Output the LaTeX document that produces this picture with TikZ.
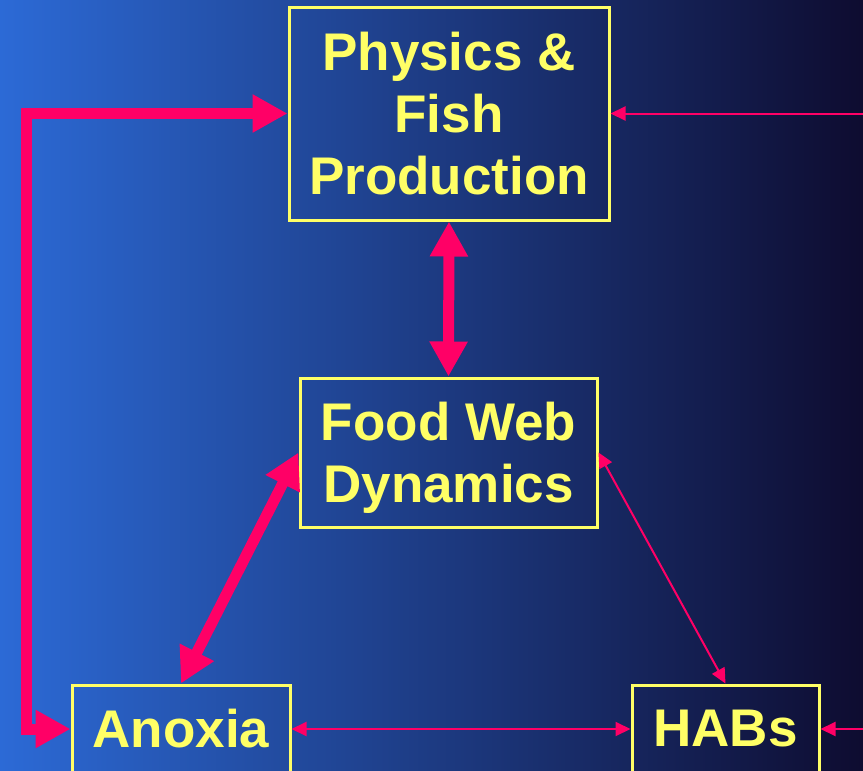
\documentclass[tikz,border=0pt]{standalone}
\usepackage{fontspec}
\setmainfont{Liberation Sans}
\usetikzlibrary{arrows.meta, positioning}
\definecolor{linkred}{RGB}{255,0,102}
\definecolor{boxyellow}{RGB}{255,255,102}
\definecolor{bgleft}{RGB}{44,106,214}
\definecolor{bgmid}{RGB}{32,64,148}
\definecolor{bgright}{RGB}{14,12,48}

\begin{document}
\begin{tikzpicture}[x=1pt, y=-1pt,
    box/.style={draw=boxyellow, line width=3pt, text=boxyellow, align=center, inner sep=0pt,
        font=\fontsize{53}{62}\selectfont\bfseries},
    thickarrow/.style={linkred, line width=11pt,
        {Triangle[length=35pt,width=36pt]}-{Triangle[length=35pt,width=36pt]}},
    thinboth/.style={linkred, line width=2pt,
        {Triangle[length=15pt,width=14pt]}-{Triangle[length=15pt,width=14pt]}},
    thinend/.style={linkred, line width=2pt, -{Triangle[length=15pt,width=14pt]}}]
    \useasboundingbox (0,0) rectangle (863,771);
    
    % background
    \shade[left color=bgleft, middle color=bgmid, right color=bgright] (0,0) rectangle (863,771);
    
    % boxes
    \node[box, minimum width=320pt, minimum height=213pt] (phys) at (449,113.5) {Physics \&\\Fish\\Production};
    \node[box, minimum width=297pt, minimum height=149pt, text depth=0pt] (food) at (448.5,452.5) {Food Web\\Dynamics};
    \node[box, minimum width=218pt, minimum height=88pt] (anoxia) at (181,729) {Anoxia};
    \node[box, minimum width=187pt, minimum height=88pt] (habs) at (725.5,729) {HABs};
    
    \coordinate (rail) at (26,400);
    \coordinate (edgetop) at (863,113.5);
    \coordinate (edgebot) at (863,729);
    
    % links
    \draw[thickarrow] (phys.west) -| (rail) |- (anoxia.west);
    \draw[thickarrow] (phys.south) -- (food.north);
    \draw[thickarrow] (food.west) -- (anoxia.north);
    \draw[thinboth] (food.east) -- (habs.north);
    \draw[thinboth] (anoxia.east) -- (habs.west);
    \draw[thinend] (edgetop) -- (phys.east);
    \draw[thinend] (edgebot) -- (habs.east);
\end{tikzpicture}
\end{document}
